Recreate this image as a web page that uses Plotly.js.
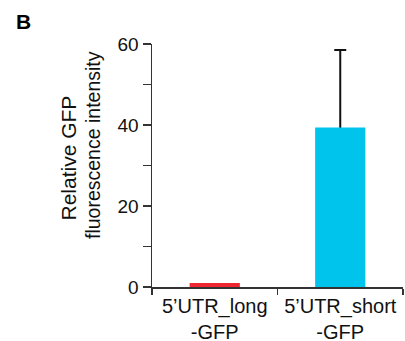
<!DOCTYPE html>
<html>
<head>
<meta charset="utf-8">
<script src="https://cdn.plot.ly/plotly-3.0.1.min.js"></script>
<style>html,body{margin:0;padding:0;background:#fff;}#chart{width:405px;height:341px;}</style>
</head>
<body>
<div id="chart"></div>
<script>
var categories = ["5’UTR_long<br>-GFP", "5’UTR_short<br>-GFP"];
var values = [1.0, 39.4];
var errors = [NaN, 19.1];
var barColors = ["#ee2630", "#00c4ec"];
var yTickVals = [0, 20, 40, 60];
var yTickText = ["0", "20", "40", "60"];
var yTitleLines = ["Relative GFP", "fluorescence intensity"];
var panelLabel = "B";

var L = 152, R = 2, T = 44, B = 54;
var W = 405, H = 341;
var pw = W - L - R, ph = H - T - B;
function px(x) { return (x - L) / pw; }
function py(y) { return (H - B - y) / ph; }

var font = "Liberation Sans, Arial, sans-serif";
var axisColor = "#333333";
var textColor = "#111111";

// error-bar carrier (transparent), drawn first so the coloured bars hide the lower half
var errTrace = {
  type: "bar",
  x: categories,
  y: values,
  width: 0.4,
  marker: { color: "rgba(0,0,0,0)", line: { width: 0 } },
  error_y: {
    type: "data",
    symmetric: true,
    array: errors,
    color: "#111111",
    thickness: 2,
    width: 6
  },
  hoverinfo: "none"
};

var barTrace = {
  type: "bar",
  x: categories,
  y: values,
  width: 0.4,
  marker: { color: barColors, line: { width: 0 } },
  hoverinfo: "none"
};

var layout = {
  width: W,
  height: H,
  margin: { l: L, r: R, t: T, b: B, pad: 0 },
  paper_bgcolor: "#ffffff",
  plot_bgcolor: "#ffffff",
  showlegend: false,
  barmode: "overlay",
  font: { family: font, size: 19, color: textColor },
  xaxis: {
    type: "category",
    range: [-0.5, 1.5],
    showgrid: false,
    zeroline: false,
    showline: true,
    linecolor: axisColor,
    linewidth: 1.5,
    ticks: "outside",
    tickson: "boundaries",
    ticklen: 6,
    tickwidth: 1.5,
    tickcolor: axisColor,
    tickfont: { family: font, size: 20, color: textColor },
    fixedrange: true
  },
  yaxis: {
    range: [0, 60],
    showgrid: false,
    zeroline: false,
    showline: true,
    linecolor: axisColor,
    linewidth: 1.5,
    ticks: "outside",
    ticklen: 8,
    tickwidth: 1.5,
    tickcolor: axisColor,
    tickvals: yTickVals,
    ticktext: yTickText,
    tickfont: { family: font, size: 19, color: textColor },
    minor: { dtick: 10, ticks: "outside", ticklen: 8, tickwidth: 1.5, tickcolor: axisColor },
    fixedrange: true
  },
  annotations: [
    { text: yTitleLines[0], xref: "paper", yref: "paper", x: px(67.5), y: py(158), textangle: -90, showarrow: false, xanchor: "center", yanchor: "middle", font: { family: font, size: 21, color: textColor } },
    { text: yTitleLines[1], xref: "paper", yref: "paper", x: px(93), y: py(145), textangle: -90, showarrow: false, xanchor: "center", yanchor: "middle", font: { family: font, size: 19.5, color: textColor } },
    { text: "<b>" + panelLabel + "</b>", xref: "paper", yref: "paper", x: px(14), y: py(8), xanchor: "left", yanchor: "top", showarrow: false, font: { family: font, size: 21, color: "#000000" } }
  ]
};

Plotly.newPlot("chart", [errTrace, barTrace], layout, { displayModeBar: false, staticPlot: true });
</script>
</body>
</html>
